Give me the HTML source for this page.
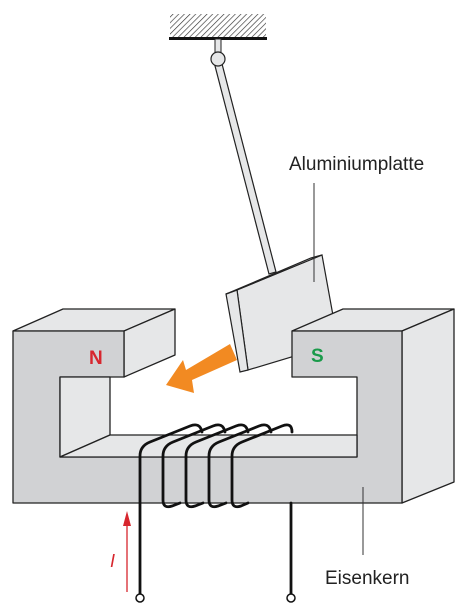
<!DOCTYPE html>
<html><head><meta charset="utf-8"><style>
html,body{margin:0;padding:0;background:#fff;}
svg{display:block;font-family:"Liberation Sans",sans-serif;}
</style></head><body>
<svg width="465" height="613" viewBox="0 0 465 613">
<defs>
<pattern id="hatch" width="4" height="4" patternUnits="userSpaceOnUse" patternTransform="rotate(45)">
<line x1="0" y1="0" x2="0" y2="4" stroke="#333" stroke-width="1.3"/>
</pattern>
</defs>
<g>
<rect x="170" y="14" width="96" height="24" fill="url(#hatch)"/>
<line x1="169" y1="38.5" x2="267" y2="38.5" stroke="#111" stroke-width="3"/>
<rect x="215" y="39" width="6" height="14" fill="#e6e7e8" stroke="#222" stroke-width="1"/>
</g>
<g>
<polygon points="214,62 221,60 276,272 269,274" fill="#e6e7e8" stroke="#222" stroke-width="1.2"/>
<circle cx="218" cy="59" r="7" fill="#e6e7e8" stroke="#222" stroke-width="1.2"/>
</g>
<g>
<polygon points="237,290 322,255 338,343 248,370" fill="#e6e7e8" stroke="#222" stroke-width="1.2"/>
<polygon points="226,294 237,290 248,370 240,372" fill="#e6e7e8" stroke="#222" stroke-width="1.2"/>
<polygon points="226,294 311,258 322,255 237,290" fill="#e6e7e8" stroke="#222" stroke-width="1.2"/>
</g>
<g stroke="#222" stroke-width="1.3" stroke-linejoin="round">
<polygon points="13,331 63,309 175,309 124,331" fill="#e6e7e8"/>
<polygon points="124,331 175,309 175,355 124,377" fill="#e6e7e8"/>
<polygon points="292,331 343,309 454,309 402,331" fill="#e6e7e8"/>
<polygon points="402,331 454,309 454,482 402,503" fill="#e6e7e8"/>
<path d="M13,331 H124 V377 H60 V457 H357 V377 H292 V331 H402 V503 H13 Z" fill="#d1d2d4"/>
<polygon points="60,377 110,377 110,435 60,457" fill="#e6e7e8"/>
<polygon points="60,457 110,435 357,435 357,457" fill="#e6e7e8"/>
</g>
<text x="89" y="364" font-size="19" font-weight="bold" fill="#d7262e">N</text>
<text x="311" y="362" font-size="19" font-weight="bold" fill="#1a9a4a">S</text>
<g>
<polygon points="230,344 237,360 192,380 194,393 166,385 183,360 186,370" fill="#f28a22"/>
</g>
<g fill="none" stroke="#111" stroke-width="2.8" stroke-linecap="round">
<path d="M140,597 V456 Q140,446 150,442 L190,426 Q200,422 202,432"/>
<path d="M163,456 Q163,446 173,442 L213,426 Q223,422 225,432 M163,456 V500 Q163,509 172,506 L180,503"/>
<path d="M186,456 Q186,446 196,442 L236,426 Q246,422 248,432 M186,456 V500 Q186,509 195,506 L203,503"/>
<path d="M209,456 Q209,446 219,442 L259,426 Q269,422 271,432 M209,456 V500 Q209,509 218,506 L226,503"/>
<path d="M232,456 Q232,446 242,442 L282,426 Q292,422 292,432 M232,456 V500 Q232,509 241,506 L248,503"/>
<path d="M291,503 V597"/>
</g>
<circle cx="140" cy="598" r="4" fill="#fff" stroke="#111" stroke-width="1.5"/>
<circle cx="291" cy="598" r="4" fill="#fff" stroke="#111" stroke-width="1.5"/>
<g>
<line x1="127" y1="592" x2="127" y2="520" stroke="#d7262e" stroke-width="1.3"/>
<polygon points="127,511 123,526 131,526" fill="#d7262e"/>
<text x="110" y="567" font-size="18" font-style="italic" fill="#d7262e">I</text>
</g>
<line x1="314" y1="183" x2="314" y2="282" stroke="#333" stroke-width="1"/>
<text x="289" y="170" font-size="19" fill="#222">Aluminiumplatte</text>
<line x1="363" y1="487" x2="363" y2="555" stroke="#333" stroke-width="1"/>
<text x="325" y="584" font-size="19" fill="#222">Eisenkern</text>
</svg>
</body></html>
